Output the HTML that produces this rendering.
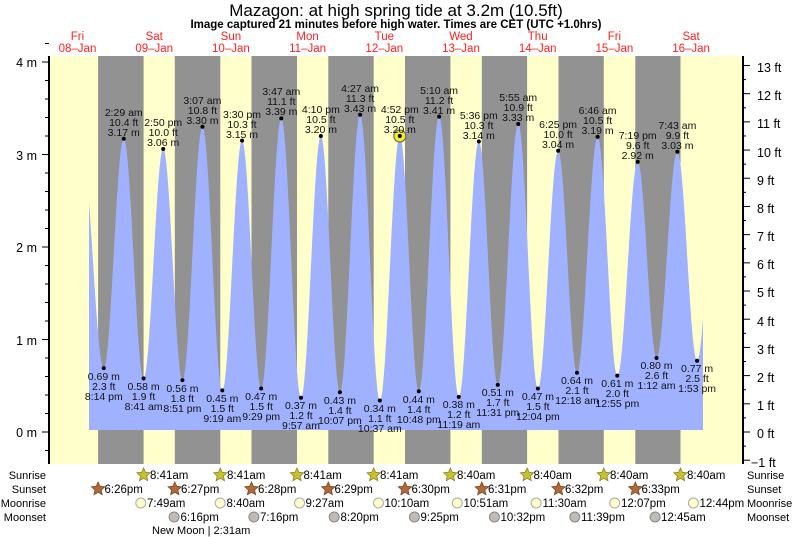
<!DOCTYPE html>
<html><head><meta charset="utf-8"><style>
body{margin:0;background:#fff}
svg{display:block;font-family:"Liberation Sans",sans-serif}
.l{font-size:10.5px;fill:#111;text-anchor:middle}
.r{font-size:11.5px;fill:#000}
</style></head><body>
<svg width="793" height="537" viewBox="0 0 793 537" xmlns="http://www.w3.org/2000/svg">
<rect x="0" y="0" width="793" height="537" fill="#fff"/>
<text x="396" y="16" font-size="17" text-anchor="middle">Mazagon: at high  spring tide at 3.2m (10.5ft)</text>
<text x="396" y="28" font-size="11.5" font-weight="bold" text-anchor="middle">Image captured 21 minutes before high water. Times are CET (UTC +1.0hrs)</text>
<g fill="#ff2020" font-size="11.5" text-anchor="middle">
<text x="77.5" y="40">Fri</text><text x="77.5" y="52">08–Jan</text>
<text x="154.2" y="40">Sat</text><text x="154.2" y="52">09–Jan</text>
<text x="230.9" y="40">Sun</text><text x="230.9" y="52">10–Jan</text>
<text x="307.6" y="40">Mon</text><text x="307.6" y="52">11–Jan</text>
<text x="384.3" y="40">Tue</text><text x="384.3" y="52">12–Jan</text>
<text x="461" y="40">Wed</text><text x="461" y="52">13–Jan</text>
<text x="537.7" y="40">Thu</text><text x="537.7" y="52">14–Jan</text>
<text x="614.4" y="40">Fri</text><text x="614.4" y="52">15–Jan</text>
<text x="691.1" y="40">Sat</text><text x="691.1" y="52">16–Jan</text>
</g>
<rect x="49" y="56" width="694" height="408" fill="#ffffcc"/>
<g fill="#929292">
<rect x="98.1" y="56" width="45.5" height="408"/><rect x="174.8" y="56" width="45.5" height="408"/>
<rect x="251.5" y="56" width="45.5" height="408"/><rect x="328.3" y="56" width="45.4" height="408"/>
<rect x="405" y="56" width="45.4" height="408"/><rect x="481.8" y="56" width="45.3" height="408"/>
<rect x="558.5" y="56" width="45.3" height="408"/><rect x="635.3" y="56" width="45.2" height="408"/>
</g>
<path id="tide" fill="#a0b2ff" d=""/>
<line x1="49" y1="56" x2="49" y2="464" stroke="#000" stroke-width="2"/>
<line x1="743" y1="56" x2="743" y2="464" stroke="#000" stroke-width="2"/>
<g id="ticks" stroke="#000"></g>
<g font-size="12.5" text-anchor="end">
<text x="37" y="67">4 m</text><text x="37" y="160">3 m</text><text x="37" y="252">2 m</text><text x="37" y="345">1 m</text><text x="37" y="437">0 m</text>
</g>
<g font-size="12.5">
<text x="757" y="72">13 ft</text><text x="757" y="100">12 ft</text><text x="757" y="128">11 ft</text><text x="757" y="157">10 ft</text>
<text x="757" y="185">9 ft</text><text x="757" y="213">8 ft</text><text x="757" y="241">7 ft</text><text x="757" y="269">6 ft</text>
<text x="757" y="297">5 ft</text><text x="757" y="326">4 ft</text><text x="757" y="354">3 ft</text><text x="757" y="382">2 ft</text>
<text x="757" y="410">1 ft</text><text x="757" y="438">0 ft</text><text x="751" y="467">−1 ft</text>
</g>
<g id="dots" fill="#000"></g>
<circle cx="399.8" cy="136" r="6" fill="#eeee22" stroke="#555" stroke-width="1"/>
<circle cx="399.8" cy="136" r="2" fill="#000"/>
<g class="l">
<text class="l" x="123.7" y="116">2:29 am</text><text class="l" x="123.7" y="126">10.4 ft</text><text class="l" x="123.7" y="136">3.17 m</text>
<text class="l" x="163.2" y="126">2:50 pm</text><text class="l" x="163.2" y="136">10.0 ft</text><text class="l" x="163.2" y="146">3.06 m</text>
<text class="l" x="202.4" y="104">3:07 am</text><text class="l" x="202.4" y="114">10.8 ft</text><text class="l" x="202.4" y="124">3.30 m</text>
<text class="l" x="242" y="118">3:30 pm</text><text class="l" x="242" y="128">10.3 ft</text><text class="l" x="242" y="138">3.15 m</text>
<text class="l" x="281.3" y="95">3:47 am</text><text class="l" x="281.3" y="105">11.1 ft</text><text class="l" x="281.3" y="115">3.39 m</text>
<text class="l" x="320.9" y="113">4:10 pm</text><text class="l" x="320.9" y="123">10.5 ft</text><text class="l" x="320.9" y="133">3.20 m</text>
<text class="l" x="360.1" y="92">4:27 am</text><text class="l" x="360.1" y="102">11.3 ft</text><text class="l" x="360.1" y="112">3.43 m</text>
<text class="l" x="399.8" y="113">4:52 pm</text><text class="l" x="399.8" y="123">10.5 ft</text><text class="l" x="399.8" y="133">3.20 m</text>
<text class="l" x="439.1" y="94">5:10 am</text><text class="l" x="439.1" y="104">11.2 ft</text><text class="l" x="439.1" y="114">3.41 m</text>
<text class="l" x="478.8" y="119">5:36 pm</text><text class="l" x="478.8" y="129">10.3 ft</text><text class="l" x="478.8" y="139">3.14 m</text>
<text class="l" x="518.2" y="101">5:55 am</text><text class="l" x="518.2" y="111">10.9 ft</text><text class="l" x="518.2" y="121">3.33 m</text>
<text class="l" x="558.1" y="128">6:25 pm</text><text class="l" x="558.1" y="138">10.0 ft</text><text class="l" x="558.1" y="148">3.04 m</text>
<text class="l" x="597.6" y="114">6:46 am</text><text class="l" x="597.6" y="124">10.5 ft</text><text class="l" x="597.6" y="134">3.19 m</text>
<text class="l" x="637.7" y="139">7:19 pm</text><text class="l" x="637.7" y="149">9.6 ft</text><text class="l" x="637.7" y="159">2.92 m</text>
<text class="l" x="677.4" y="129">7:43 am</text><text class="l" x="677.4" y="139">9.9 ft</text><text class="l" x="677.4" y="149">3.03 m</text>

<text class="l" x="103.8" y="380">0.69 m</text><text class="l" x="103.8" y="390">2.3 ft</text><text class="l" x="103.8" y="400">8:14 pm</text>
<text class="l" x="143.6" y="390">0.58 m</text><text class="l" x="143.6" y="400">1.9 ft</text><text class="l" x="143.6" y="410">8:41 am</text>
<text class="l" x="182.4" y="392">0.56 m</text><text class="l" x="182.4" y="402">1.8 ft</text><text class="l" x="182.4" y="412">8:51 pm</text>
<text class="l" x="222.3" y="402">0.45 m</text><text class="l" x="222.3" y="412">1.5 ft</text><text class="l" x="222.3" y="422">9:19 am</text>
<text class="l" x="261.2" y="400">0.47 m</text><text class="l" x="261.2" y="410">1.5 ft</text><text class="l" x="261.2" y="420">9:29 pm</text>
<text class="l" x="301" y="409">0.37 m</text><text class="l" x="301" y="419">1.2 ft</text><text class="l" x="301" y="429">9:57 am</text>
<text class="l" x="339.9" y="404">0.43 m</text><text class="l" x="339.9" y="414">1.4 ft</text><text class="l" x="339.9" y="424">10:07 pm</text>
<text class="l" x="379.8" y="412">0.34 m</text><text class="l" x="379.8" y="422">1.1 ft</text><text class="l" x="379.8" y="432">10:37 am</text>
<text class="l" x="418.8" y="403">0.44 m</text><text class="l" x="418.8" y="413">1.4 ft</text><text class="l" x="418.8" y="423">10:48 pm</text>
<text class="l" x="458.8" y="408">0.38 m</text><text class="l" x="458.8" y="418">1.2 ft</text><text class="l" x="458.8" y="428">11:19 am</text>
<text class="l" x="497.8" y="396">0.51 m</text><text class="l" x="497.8" y="406">1.7 ft</text><text class="l" x="497.8" y="416">11:31 pm</text>
<text class="l" x="537.9" y="400">0.47 m</text><text class="l" x="537.9" y="410">1.5 ft</text><text class="l" x="537.9" y="420">12:04 pm</text>
<text class="l" x="577" y="384">0.64 m</text><text class="l" x="577" y="394">2.1 ft</text><text class="l" x="577" y="404">12:18 am</text>
<text class="l" x="617.3" y="387">0.61 m</text><text class="l" x="617.3" y="397">2.0 ft</text><text class="l" x="617.3" y="407">12:55 pm</text>
<text class="l" x="656.5" y="369">0.80 m</text><text class="l" x="656.5" y="379">2.6 ft</text><text class="l" x="656.5" y="389">1:12 am</text>
<text class="l" x="697.1" y="372">0.77 m</text><text class="l" x="697.1" y="382">2.5 ft</text><text class="l" x="697.1" y="392">1:53 pm</text>
</g>
<g font-size="11" text-anchor="end">
<text x="46" y="479">Sunrise</text><text x="46" y="493">Sunset</text><text x="46" y="507">Moonrise</text><text x="46" y="521">Moonset</text>
</g>
<g font-size="11">
<text x="747" y="479">Sunrise</text><text x="747" y="493">Sunset</text><text x="747" y="507">Moonrise</text><text x="747" y="521">Moonset</text>
</g>
<g id="icons"></g>
<g class="r" font-size="11.5">
<text x="150" y="479">8:41am</text><text x="227" y="479">8:41am</text><text x="303.5" y="479">8:41am</text><text x="380" y="479">8:41am</text>
<text x="457" y="479">8:40am</text><text x="533.5" y="479">8:40am</text><text x="610" y="479">8:40am</text><text x="687" y="479">8:40am</text>
<text x="104.5" y="493">6:26pm</text><text x="181" y="493">6:27pm</text><text x="258" y="493">6:28pm</text><text x="334.5" y="493">6:29pm</text>
<text x="411.5" y="493">6:30pm</text><text x="488" y="493">6:31pm</text><text x="565" y="493">6:32pm</text><text x="641.5" y="493">6:33pm</text>
<text x="147" y="507">7:49am</text><text x="226.5" y="507">8:40am</text><text x="305.5" y="507">9:27am</text><text x="384.5" y="507">10:10am</text>
<text x="463.5" y="507">10:51am</text><text x="542.5" y="507">11:30am</text><text x="621" y="507">12:07pm</text><text x="699.5" y="507">12:44pm</text>
<text x="180.5" y="521">6:16pm</text><text x="260" y="521">7:16pm</text><text x="340.5" y="521">8:20pm</text><text x="420.5" y="521">9:25pm</text>
<text x="500.5" y="521">10:32pm</text><text x="581" y="521">11:39pm</text><text x="661" y="521">12:45am</text>
<text x="152" y="534" font-size="11">New Moon | 2:31am</text>
</g>
</svg>
<script>
(function(){
var NS="http://www.w3.org/2000/svg";
function X(d,h,m){return 39.1+76.7*(d+(h+m/60)/24);}
function Y(v){return 432-92.5*v;}
var E=[[0,13,30,3.0],[0,20,14,.69],[1,2,29,3.17],[1,8,41,.58],[1,14,50,3.06],[1,20,51,.56],[2,3,7,3.30],[2,9,19,.45],[2,15,30,3.15],[2,21,29,.47],[3,3,47,3.39],[3,9,57,.37],[3,16,10,3.20],[3,22,7,.43],[4,4,27,3.43],[4,10,37,.34],[4,16,52,3.20],[4,22,48,.44],[5,5,10,3.41],[5,11,19,.38],[5,17,36,3.14],[5,23,31,.51],[6,5,55,3.33],[6,12,4,.47],[6,18,25,3.04],[7,0,18,.64],[7,6,46,3.19],[7,12,55,.61],[7,19,19,2.92],[8,1,12,.80],[8,7,43,3.03],[8,13,53,.77],[8,20,5,3.0]];
var P=E.map(function(e){return [X(e[0],e[1],e[2]),e[3]];});
function lvl(x){for(var i=0;i<P.length-1;i++){if(x>=P[i][0]&&x<=P[i+1][0]){var t=(x-P[i][0])/(P[i+1][0]-P[i][0]);return P[i][1]+(P[i+1][1]-P[i][1])*(1-Math.cos(Math.PI*t))/2;}}return 0;}
var d="M89,430";for(var x=89;x<=703;x+=0.5){d+=" L"+x+","+Y(lvl(x)).toFixed(1);}d+=" L703,430 Z";
document.getElementById("tide").setAttribute("d",d);
var dots=document.getElementById("dots");
for(var i=1;i<P.length-1;i++){var c=document.createElementNS(NS,"circle");c.setAttribute("cx",P[i][0]);c.setAttribute("cy",Y(P[i][1]));c.setAttribute("r",2);dots.appendChild(c);}
var tk=document.getElementById("ticks"),s="";
for(var m=-0.2;m<=4.21;m+=0.2){var y=Y(m);var maj=Math.abs(m-Math.round(m))<.01;s+='<line x1="'+(maj?42:45)+'" y1="'+y+'" x2="49" y2="'+y+'"/>';}
for(var f=-1;f<=13.01;f+=0.5){var y=432-92.5*0.3048*f;var maj=Math.abs(f-Math.round(f))<.01;s+='<line x1="743" y1="'+y+'" x2="'+(maj?750:746)+'" y2="'+y+'"/>';}
tk.innerHTML=s;
function star(cx,cy,fill,st){var p=[];for(var k=0;k<10;k++){var r=k%2?3.3:7;var a=-Math.PI/2+k*Math.PI/5;p.push((cx+r*Math.cos(a)).toFixed(1)+","+(cy+r*Math.sin(a)).toFixed(1));}return '<polygon points="'+p.join(" ")+'" fill="'+fill+'" stroke="'+st+'" stroke-width="0.8"/>';}
var ic="";
[143.6,220.3,297,373.7,450.4,527.1,603.8,680.5].forEach(function(x){ic+=star(x,475,"#c8c030","#8a8420");});
[98.1,174.8,251.5,328.3,405,481.8,558.5,635.3].forEach(function(x){ic+=star(x,489,"#b06a3a","#7a4420");});
[140.8,220.2,299.5,378.4,457.3,536.1,614.7,693.4].forEach(function(x){ic+='<circle cx="'+x+'" cy="503" r="5" fill="#ffffcc" stroke="#aaa"/>';});
[174.1,253.9,334.2,414.4,494.4,574.8,655.1].forEach(function(x){ic+='<circle cx="'+x+'" cy="517" r="5" fill="#c0bcb4" stroke="#888"/>';});
document.getElementById("icons").innerHTML=ic;
})();
</script>
</body></html>
